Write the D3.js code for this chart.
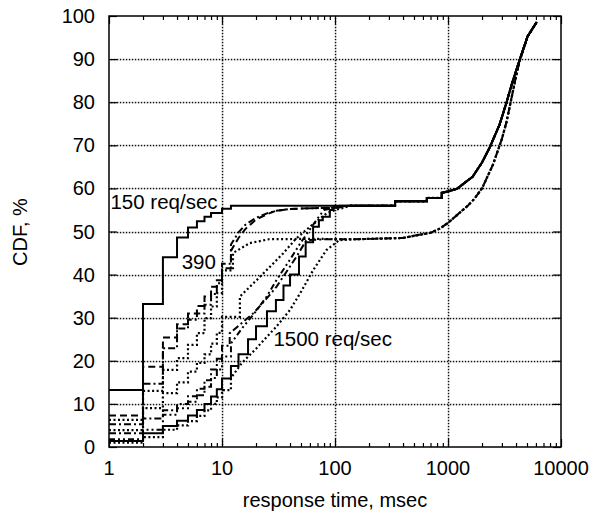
<!DOCTYPE html>
<html><head><meta charset="utf-8">
<script src="https://cdn.jsdelivr.net/npm/d3@7"></script>
<style>
body{margin:0;background:#fff}
svg{display:block}
text{font-family:"Liberation Sans",Arial,Helvetica,sans-serif;fill:#000}
</style>
</head><body><svg id="c" width="591" height="516"></svg>
<script>
// ---------- data ----------
const xTickValues = [1, 10, 100, 1000, 10000];
const yTickValues = [0, 10, 20, 30, 40, 50, 60, 70, 80, 90, 100];
const gridX = [10, 100, 1000];
const gridY = [10, 20, 30, 40, 50, 60, 70, 80, 90];

// shared tails (response time msec, CDF %)
const upperTail = [[135,56],[340,56],[340,57],[650,57],[650,57.8],[880,57.8],[880,59],[1000,59.3],[1200,59.9],[1650,62.7],[2000,66],[2340,69.5],[2860,74.8],[3300,80],[3650,84],[4300,89.8],[5070,95.3],[6100,98.6]];
const lowerTail = [[150,48.2],[400,48.5],[500,49],[700,49.7],[850,50.7],[1000,52],[1200,53.8],[1500,56],[1700,57.5],[2000,60],[2500,65.5],[3000,71.5],[3300,75.5],[3650,81],[4000,86],[4300,89.5],[5070,95.3],[6100,98.6]];

// heads of each series
const s150 = [[1,13.2],[2,33.2],[3,44],[4,48.6],[5,50.9],[6,52.4],[7,53.4],[8,54.3],[10,55.3],[12,56]];
const s390 = [[1,7.3],[2,18.6],[3,25.4],[4,28.5],[5,31],[6,32.7],[7,34.9],[8,37.2],[9,38.7],[10,41.5],[12,45.5],[14,48.5],[16,50.5],[20,52.8],[25,54],[30,54.8],[40,55.2],[60,55.4],[100,55.5]];
const sB = [[1,5.3],[2,14.7],[3,22.9],[4,27.5],[5,29.5],[6,31],[7,33],[8,35.5],[9,38],[10,42.5],[12,47],[14,49.8],[16,51.5],[20,53.2],[25,54.2],[30,54.8],[40,55.2],[60,55.4],[100,55.5]];
const sC = [[1,6.3],[2,13],[3,17.9],[4,20.6],[5,23.7],[6,26.4],[7,29.9],[8,32.6],[9,35.7],[10,41],[12.5,45],[17.6,47.3],[26,48.2],[60,48.3]];
const sD = [[1,3.9],[2,9],[3,12.5],[4,15],[5,17.5],[6,19.5],[7,21.5],[8,24],[9,26.5],[10,30.2],[14.4,34.9],[21.7,39.5],[27,42],[34.7,44.9],[45,48.3],[60,51.1],[84,54.2],[100,55],[120,55.5]];
const sE = [[1,3.2],[2,6.6],[3,8.5],[4,10],[5,11.8],[6,13.5],[7,15.5],[8,18],[9,20.5],[10,23.5],[11.7,26.4],[18.9,31],[24,34],[30.4,37.2],[38,41],[45.7,44.2],[55.9,48],[80,48.2]];
const sF = [[1,1.8],[2,4],[3,7.5],[4,9],[5,10.5],[6,12],[7,14],[8,16],[9,18],[10,21],[12,24],[15,27.5],[20,31.5],[25,35],[30,38.5],[40,43.5],[50,47.5],[60,50.5],[70,53],[80,55],[100,55.6]];
const s1500 = [[1,1.4],[2,3.2],[3,4.9],[4,6.1],[5,7.3],[6,8.6],[7,10],[8,11.7],[9,13.4],[10,15.9],[12,18.8],[14,21.5],[17,25],[20,28],[25,31.5],[30,34.1],[35,37.5],[40,40],[48,44.2],[55,47.5],[64,51.1],[72,52.6],[78,53.4],[90,55],[97,55.6],[110,56]];
const sG = [[1,1.0],[2,2.3],[3,4],[4,5],[5,6],[6,7.2],[7,8.5],[8,10],[9,11.5],[10,13.2],[12,16],[15,19.5],[20,22.8],[25,25.6],[30,27.8],[40,31.8],[50,36],[64,41],[84,45.7],[109,48]];

const seriesList = [
  {head: sG,    tail: lowerTail, dash: "2,2.5",        w: 2.2, stepMax: 10},
  {head: sE,    tail: lowerTail, dash: "7,3,2,3",      w: 2,   stepMax: 10},
  {head: sC,    tail: lowerTail, dash: "2,2.5",        w: 2.2, stepMax: 10},
  {head: sF,    tail: upperTail, dash: "6,3,2,3,2,3",  w: 2,   stepMax: 10},
  {head: sD,    tail: upperTail, dash: "2,2.5",        w: 2.2, stepMax: 10},
  {head: sB,    tail: upperTail, dash: "7,3,2,3",      w: 2,   stepMax: 10},
  {head: s390,  tail: upperTail, dash: "7,4",          w: 2,   stepMax: 10},
  {head: s1500, tail: upperTail, dash: null,           w: 2,   stepMax: 100},
  {head: s150,  tail: upperTail, dash: null,           w: 2,   stepMax: 12}
];

const annotations = [
  {text: "150 req/sec", x: 1.03, y: 55.3},
  {text: "390", x: 4.4, y: 41.3},
  {text: "1500 req/sec", x: 28.5, y: 23.5}
];

// ---------- drawing ----------
const L = 109, R = 561, T = 16, B = 447;
const svg = d3.select("#c");
const x = d3.scaleLog().domain([1, 10000]).range([L, R]);
const y = d3.scaleLinear().domain([0, 100]).range([B, T]);

svg.append("defs").append("clipPath").attr("id", "clip")
  .append("rect").attr("x", L).attr("y", T).attr("width", R - L).attr("height", B - T);

// grid: dotted lines as small dots at the grid positions
const DOT = 3;
const gridDots = [];
for (const v of gridX) {
  const px = Math.round(x(v));
  for (let p = T + 2; p < B; p += DOT) gridDots.push([px, p]);
}
for (const v of gridY) {
  const py = Math.round(y(v));
  for (let p = L + 2; p < R; p += DOT) gridDots.push([p, py]);
}
svg.append("g").selectAll("rect").data(gridDots).join("rect")
  .attr("x", d => d[0] - 0.2).attr("y", d => d[1] - 0.2).attr("width", 1.5).attr("height", 1.5)
  .attr("fill", "#111");

// axes (inward ticks on all sides)
const minorX = [];
for (const dec of [1, 10, 100, 1000]) for (let k = 2; k <= 9; k++) minorX.push(dec * k);
const fmt = d => String(d);
const axB = d3.axisBottom(x).tickValues(xTickValues).tickFormat("").tickSizeInner(-8).tickSizeOuter(0);
const axT = d3.axisTop(x).tickValues(xTickValues).tickFormat("").tickSizeInner(-8).tickSizeOuter(0);
const axBm = d3.axisBottom(x).tickValues(minorX).tickFormat("").tickSizeInner(-4).tickSizeOuter(0);
const axTm = d3.axisTop(x).tickValues(minorX).tickFormat("").tickSizeInner(-4).tickSizeOuter(0);
const axL = d3.axisLeft(y).tickValues(yTickValues).tickFormat("").tickSizeInner(-8).tickSizeOuter(0);
const axR = d3.axisRight(y).tickValues(yTickValues).tickFormat("").tickSizeInner(-8).tickSizeOuter(0);
for (const [ax, tr] of [[axB,`translate(0,${B})`],[axBm,`translate(0,${B})`],[axT,`translate(0,${T})`],[axTm,`translate(0,${T})`],[axL,`translate(${L},0)`],[axR,`translate(${R},0)`]]) {
  const g = svg.append("g").attr("transform", tr).call(ax);
  g.select(".domain").remove();
  g.selectAll("line").attr("stroke", "#000").attr("stroke-width", 1.2);
}

// tick labels
svg.append("g").selectAll("text").data(xTickValues).join("text")
  .attr("x", d => x(d)).attr("y", 474.5).attr("text-anchor", "middle")
  .attr("font-size", 20).text(fmt);
svg.append("g").selectAll("text").data(yTickValues).join("text")
  .attr("x", 95).attr("y", d => y(d) + 7).attr("text-anchor", "end")
  .attr("font-size", 20).text(fmt);

// series
const toPts = (pts, stepMax) => {
  const out = [];
  for (let i = 0; i < pts.length; i++) {
    out.push(pts[i]);
    if (i < pts.length - 1 && pts[i][0] <= stepMax) out.push([pts[i + 1][0], pts[i][1]]);
  }
  return out;
};
const line = d3.line().x(d => x(d[0])).y(d => y(d[1]));
const sg = svg.append("g").attr("clip-path", "url(#clip)");
for (const s of seriesList) {
  const pts = toPts(s.head.concat(s.tail), s.stepMax);
  sg.append("path").attr("d", line(pts)).attr("fill", "none")
    .attr("stroke", "#000").attr("stroke-width", s.w)
    .attr("stroke-dasharray", s.dash)
    .attr("stroke-linejoin", "miter");
}

// frame
svg.append("rect").attr("x", L).attr("y", T).attr("width", R - L).attr("height", B - T)
  .attr("fill", "none").attr("stroke", "#000").attr("stroke-width", 1.5);

// annotations
svg.append("g").selectAll("text").data(annotations).join("text")
  .attr("x", d => x(d.x)).attr("y", d => y(d.y)).attr("font-size", 20.5).text(d => d.text);

// axis titles
svg.append("text").attr("x", (L + R) / 2).attr("y", 507).attr("text-anchor", "middle")
  .attr("font-size", 20).text("response time, msec");
svg.append("text").attr("transform", "translate(27,232) rotate(-90)").attr("text-anchor", "middle")
  .attr("font-size", 20).text("CDF, %");
</script>
</body></html>
